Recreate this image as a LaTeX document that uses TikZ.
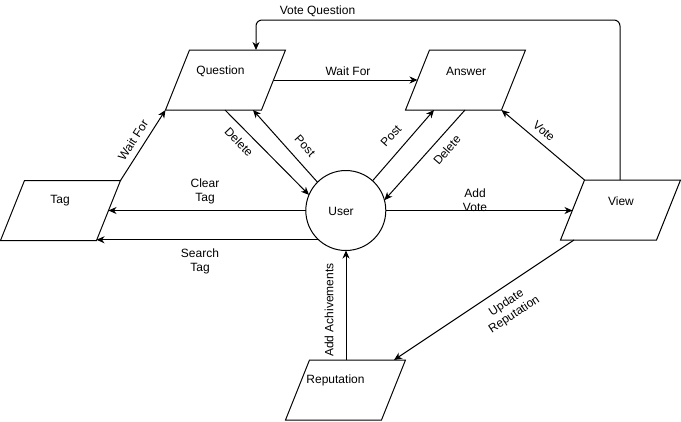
\documentclass[tikz,border=0pt]{standalone}
\usepackage{fontspec}
\setmainfont{Liberation Sans}
\usetikzlibrary{arrows.meta}
\newcommand\myparabox[3]{%
  \coordinate (#1-tl) at ({#2-36},{#3-30});
  \coordinate (#1-tr) at ({#2+60},{#3-30});
  \coordinate (#1-br) at ({#2+36},{#3+30});
  \coordinate (#1-bl) at ({#2-60},{#3+30});
  \coordinate (#1-e) at ({#2+48},{#3});
  \coordinate (#1-w) at ({#2-48},{#3});
  \draw[shapeline] (#1-tl) -- (#1-tr) -- (#1-br) -- (#1-bl) -- cycle;
}
\begin{document}
\begin{tikzpicture}[x=1bp,y=-1bp,
  font=\fontsize{12bp}{14bp}\selectfont,
  every node/.style={inner sep=0pt, outer sep=0pt},
  shapeline/.style={line width=1bp, line join=miter},
  ucirc/.style={draw, line width=1bp, circle, minimum size=80bp},
  conn/.style={line width=1bp, -{Stealth[length=8bp,width=7bp,inset=2.5bp]}},
  lbl/.style={align=center, text=black},
]
\useasboundingbox (0,0) rectangle (681,421);
% shapes
\myparabox{q}{225.5}{80}
\myparabox{a}{465.5}{80}
\myparabox{v}{620.5}{210}
\myparabox{t}{60.5}{210.5}
\myparabox{r}{345.5}{390}
\node[ucirc] (u) at (345.8,210.5) {};
% shape texts
\node[lbl] (qtx) at (220.5,71) {Question};
\node[lbl] (atx) at (466,71) {Answer};
\node[lbl] (vtx) at (621,201) {View};
\node[lbl] (ttx) at (60,201) {Tag};
\node[lbl] (rtx) at (335.5,380.5) {Reputation};
\node[lbl] (utx) at (341,211) {User};
% connector end points
\coordinate (vt) at (620,180);
\coordinate (vqc) at (256,20);
\coordinate (qt) at (256,50);
\coordinate (qd) at (225,110);
\coordinate (qp) at (253,110);
\coordinate (ap) at (434,110);
\coordinate (ad) at (465,110);
\coordinate (rt) at (346,360);
\coordinate (vb) at (574,240);
\coordinate (rr) at (394,360);
% connectors
\draw[conn, rounded corners=6bp] (vt) |- (vqc) -- (qt);
\draw[conn] (q-e) -- (a-w);
\draw[conn] (t-tr) -- (q-bl);
\draw[conn] (qd) -- (u.157);
\draw[conn] (u.135) -- (qp);
\draw[conn] (u.48) -- (ap);
\draw[conn] (ad) -- (u.15);
\draw[conn] (u.east) -- (u.east -| v-w);
\draw[conn] (v-tl) -- (a-br);
\draw[conn] (u.west) -- (u.west -| t-e);
\draw[conn] (u.227) -- (u.227 -| t-br);
\draw[conn] (rt) -- (rt |- u.south);
\draw[conn] (vb) -- (rr);
% labels
\node[lbl] (l1) at (317.5,11) {Vote Question};
\node[lbl] (l2) at (348,71) {Wait For};
\node[lbl, rotate=57] (l3) at (133,140) {Wait For};
\node[lbl, rotate=-46] (l4) at (239,142) {Delete};
\node[lbl, rotate=-48] (l5) at (305,146) {Post};
\node[lbl, rotate=48] (l6) at (391,136) {Post};
\node[lbl, rotate=49] (l7) at (447,150) {Delete};
\node[lbl, rotate=-40] (l8) at (544,131) {Vote};
\node[lbl] (l9) at (475,200) {Add\\Vote};
\node[lbl] (l10) at (205,191) {Clear\\Tag};
\node[lbl] (l11) at (200,261) {Search\\Tag};
\node[lbl, rotate=90] (l12) at (329,310) {Add Achivements};
\node[lbl, rotate=33.5] (l13) at (510.5,309) {Update\\Reputation};
\end{tikzpicture}
\end{document}
